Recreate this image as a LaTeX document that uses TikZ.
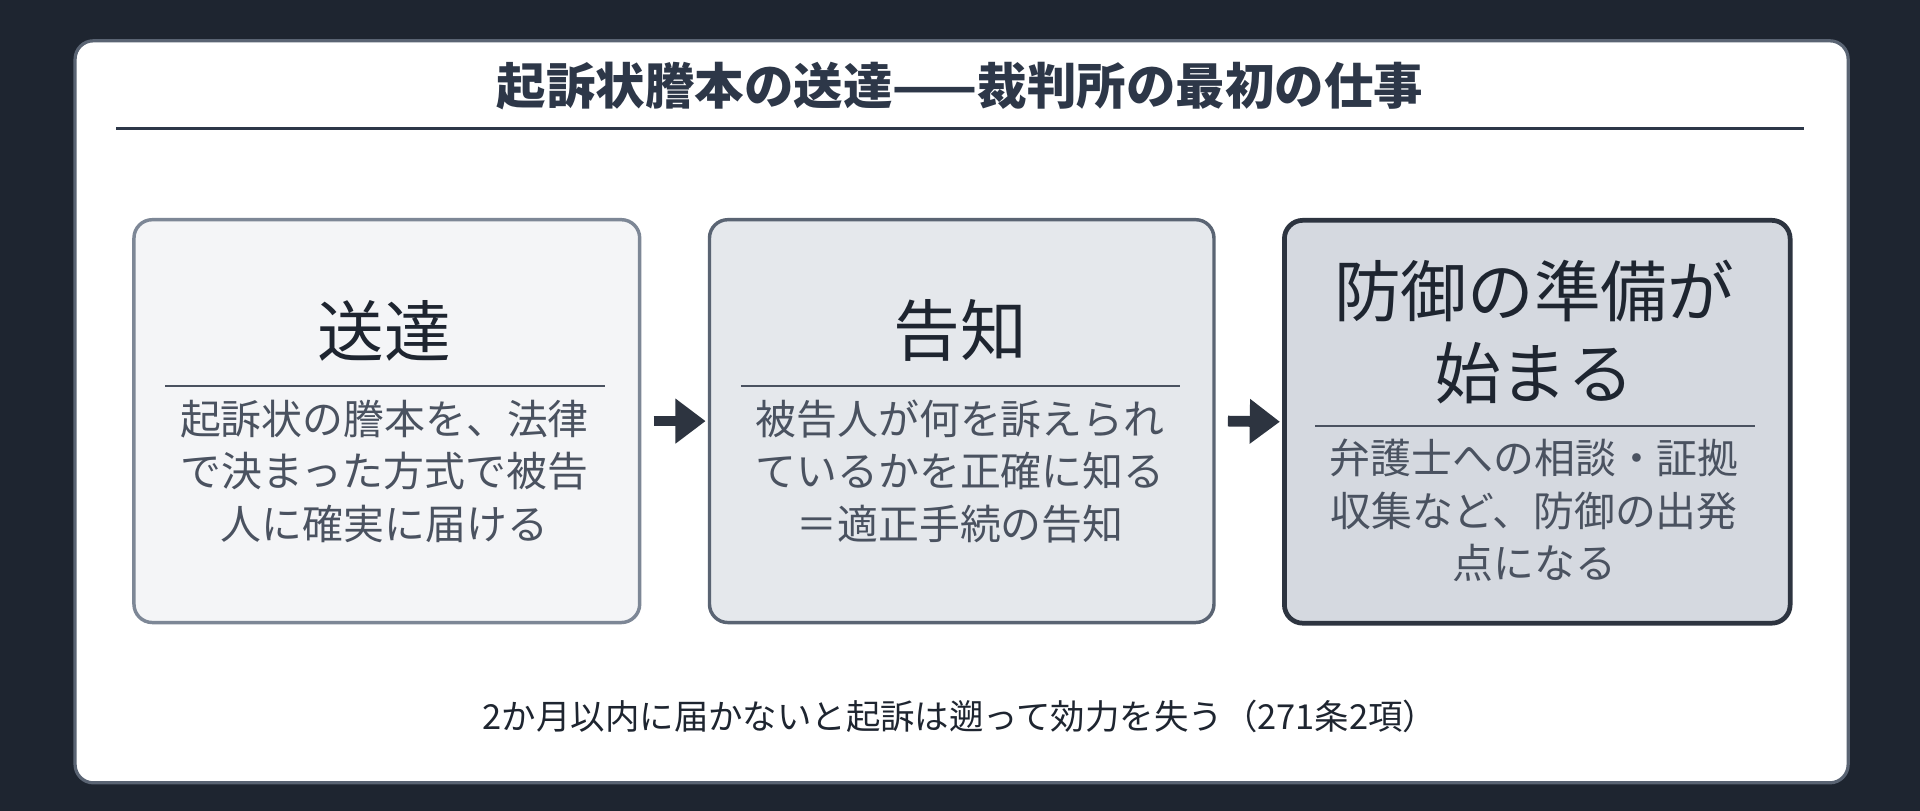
\documentclass[tikz,border=0pt]{standalone}
\usepackage{fontspec}
\setmainfont{Noto Sans CJK JP}
\usetikzlibrary{arrows.meta}
\definecolor{bg}{HTML}{1E2530}
\definecolor{ink}{HTML}{2D3748}
\definecolor{body}{HTML}{4A5260}
\definecolor{fa}{HTML}{F4F5F7}\definecolor{ba}{HTML}{7D8796}
\definecolor{fb}{HTML}{E5E8EC}\definecolor{bb}{HTML}{5A6473}
\definecolor{fc}{HTML}{D5D9E0}\definecolor{bc}{HTML}{2D3440}
\begin{document}
\begin{tikzpicture}[x=0.02cm,y=-0.02cm,
  box/.style={draw,rounded corners=0.3cm,line width=1.6pt},
  ttl/.style={font=\fontsize{31}{38}\selectfont,text=bg,align=center},
  bdy/.style={font=\fontsize{19}{24.5}\selectfont,text=body,align=center},
  arr/.style={-{Triangle[length=14pt,width=20pt]},line width=5pt,draw=bc}]
\useasboundingbox (0,0) rectangle (1568,662);
\fill[bg] (0,0) rectangle (1568,662);
\node[draw=bb,line width=1.5pt,fill=white,rounded corners=0.3cm,minimum width=1448*0.02cm,minimum height=606*0.02cm,anchor=north west] (card) at (60,32) {};
\node[font=\fontsize{23}{28}\selectfont\bfseries,text=ink] (title) at (784,70) {起訴状謄本の送達——裁判所の最初の仕事};
\draw[ink,line width=1pt] (95,105) -- (1473,105);
\node[box,draw=ba,fill=fa,minimum width=413*0.02cm,minimum height=329*0.02cm,anchor=north west] (b1) at (108,178) {};
\node[box,draw=bb,fill=fb,minimum width=412*0.02cm,minimum height=329*0.02cm,anchor=north west] (b2) at (578,178) {};
\node[box,draw=bc,fill=fc,line width=2.2pt,minimum width=413*0.02cm,minimum height=329*0.02cm,anchor=north west] (b3) at (1047,178) {};
\node[ttl] (t1) at (314,270) {送達};
\draw[body,line width=1pt] (135,315) -- (494,315);
\node[bdy] (d1) at (314,385) {起訴状の謄本を、法律\\で決まった方式で被告\\人に確実に届ける};
\node[ttl] (t2) at (784,270) {告知};
\draw[body,line width=1pt] (605,315) -- (964,315);
\node[bdy] (d2) at (784,385) {被告人が何を訴えられ\\ているかを正確に知る\\＝適正手続の告知};
\node[ttl] (t3) at (1253,271) {防御の準備が\\始まる};
\draw[body,line width=1pt] (1074,348) -- (1433,348);
\node[bdy] (d3) at (1253,417) {弁護士への相談・証拠\\収集など、防御の出発\\点になる};
\draw[arr] (b1.east) ++(10,0) coordinate (a1) -- ([xshift=-1pt]b2.west);
\draw[arr] (b2.east) ++(10,0) coordinate (a2) -- ([xshift=-1pt]b3.west);
\node[font=\fontsize{16}{20}\selectfont,text=bg] (foot) at (784,585) {2か月以内に届かないと起訴は遡って効力を失う（271条2項）};
\end{tikzpicture}
\end{document}
